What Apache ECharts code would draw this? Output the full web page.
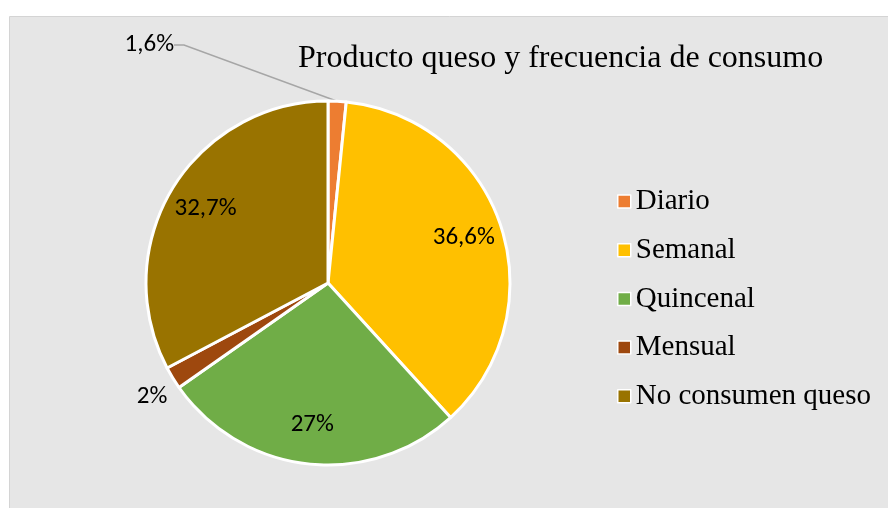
<!DOCTYPE html>
<html>
<head>
<meta charset="utf-8">
<script src="https://cdn.jsdelivr.net/npm/echarts@6/dist/echarts.min.js"></script>
<style>
	html,body{margin:0;padding:0;background:#fff}
	#main{width:888px;height:508px}
</style>
</head>
<body>
<div id="main"></div>
<script>
var categories = ['Diario', 'Semanal', 'Quincenal', 'Mensual', 'No consumen queso'];
var values = [1.6, 36.6, 27, 2, 32.7];
var labelTexts = ['1,6%', '36,6%', '27%', '2%', '32,7%'];
var colors = ['#ED7D31', '#FFC000', '#70AD47', '#9E480E', '#997300'];
var outsideIdx = [0, 3];

var myChart = echarts.init(document.getElementById('main'));

var mainData = categories.map(function (c, i) {
	var d = { name: c, value: values[i], itemStyle: { color: colors[i] } };
	if (outsideIdx.indexOf(i) >= 0) {
		d.label = { show: true, formatter: labelTexts[i] };
		d.labelLine = { show: i === 0 };
	} else {
		d.label = { show: false };
		d.labelLine = { show: false };
	}
	return d;
});
// transparent overlay only to place inner labels further out (like Excel)
var overlayData = categories.map(function (c, i) {
	return {
		name: c, value: values[i],
		label: { show: outsideIdx.indexOf(i) < 0, formatter: labelTexts[i] }
	};
});

var labelFont = { fontFamily: 'Carlito, "Liberation Sans", sans-serif', fontSize: 25, color: '#000' };

option = {
	backgroundColor: '#fff',
	animation: false,
	color: colors,
	graphic: [{
		type: 'rect', z: -10,
		shape: { x: 9.5, y: 16.5, width: 890, height: 500 },
		style: { fill: '#e6e6e6', stroke: '#d4d4d4', lineWidth: 1 }
	}],
	title: {
		text: 'Producto queso y frecuencia de consumo',
		left: 293, top: 38,
		textStyle: { fontFamily: '"Liberation Serif", "Times New Roman", serif', fontSize: 32, fontWeight: 'normal', color: '#000' }
	},
	legend: {
		orient: 'vertical',
		left: 612, top: 182,
		itemWidth: 13, itemHeight: 13,
		itemGap: 19.7,
		icon: 'rect',
		itemStyle: { borderColor: '#fff', borderWidth: 1.5 },
		textStyle: { fontFamily: '"Liberation Serif", "Times New Roman", serif', fontSize: 29, color: '#000' },
		data: categories
	},
	series: [{
		name: 'main',
		type: 'pie',
		center: [328, 283],
		radius: [0, 182],
		startAngle: 90,
		clockwise: true,
		silent: true,
		itemStyle: { borderColor: '#fff', borderWidth: 3 },
		label: Object.assign({ position: 'outside' }, labelFont),
		labelLine: { lineStyle: { color: '#a6a6a6', width: 1.5 }, length: 10, length2: 10 },
		labelLayout: function (params) {
			if (params.dataIndex === 0) {
				return { x: 174, y: 45, align: 'right', verticalAlign: 'middle' };
			}
			if (params.dataIndex === 3) {
				return { x: 152, y: 397, align: 'center', verticalAlign: 'middle' };
			}
		},
		data: mainData
	}, {
		name: 'labels',
		type: 'pie',
		center: [328, 283],
		radius: [0, 280],
		startAngle: 90,
		clockwise: true,
		silent: true,
		legendHoverLink: false,
		itemStyle: { color: 'rgba(0,0,0,0)', borderWidth: 0 },
		label: Object.assign({ position: 'inside' }, labelFont),
		labelLine: { show: false },
		data: overlayData
	}]
};
myChart.setOption(option);
</script>
</body>
</html>
